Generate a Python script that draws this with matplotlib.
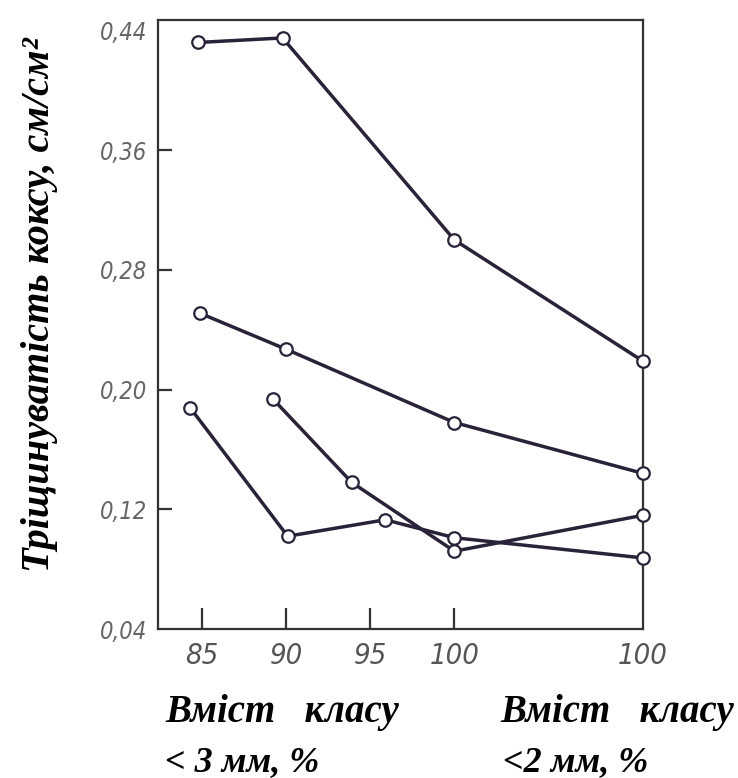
import matplotlib
matplotlib.use("Agg")
import matplotlib.pyplot as plt

# ---- data (x in % of class <3 mm; last point belongs to the <2 mm scale, plotted at its own position) ----
x_ticks = [85, 90, 95, 100, 111.2]
x_tick_labels = ["85", "90", "95", "100", "100"]
y_ticks = [0.04, 0.12, 0.20, 0.28, 0.36, 0.44]
y_tick_labels = ["0,04", "0,12", "0,20", "0,28", "0,36", "0,44"]

s1_x = [84.8, 89.8, 100.0, 111.2]
s1_y = [0.432, 0.435, 0.300, 0.219]

s2_x = [84.9, 90.0, 100.0, 111.2]
s2_y = [0.251, 0.227, 0.178, 0.144]

s3_x = [84.3, 90.1, 95.9, 100.0, 111.2]
s3_y = [0.188, 0.102, 0.113, 0.101, 0.0875]

s4_x = [89.2, 93.9, 100.0, 111.2]
s4_y = [0.194, 0.138, 0.092, 0.116]

series = [(s1_x, s1_y), (s2_x, s2_y), (s3_x, s3_y), (s4_x, s4_y)]

W, H = 738, 778
fig = plt.figure(figsize=(W / 100, H / 100), dpi=100)
fig.patch.set_facecolor("white")

left, right, bottom, top = 158, 643, 629, 20
ax = fig.add_axes([left / W, 1 - bottom / H, (right - left) / W, (bottom - top) / H])

line_color = "#2a2238"
for xs, ys in series:
    ax.plot(xs, ys, color=line_color, lw=2.5, marker="o", ms=9,
            mfc="white", mec=line_color, mew=1.6, zorder=3, clip_on=False)

ax.set_xlim(82.4, 111.2)
ax.set_ylim(0.04, 0.447)

for sp in ax.spines.values():
    sp.set_color("#333333")
    sp.set_linewidth(1.6)

num_font = ["DejaVu Sans"]
ax.set_xticks(x_ticks)
ax.set_xticklabels(x_tick_labels, family=num_font, style="italic",
                   fontsize=21, color="#555555", fontstretch="condensed")
ax.set_yticks(y_ticks)
ax.set_yticklabels(y_tick_labels, family=num_font, style="italic",
                   fontsize=17, color="#666666", fontstretch="condensed")
ax.tick_params(axis="x", direction="in", length=15, width=1.6, color="#333333", pad=9)
ax.tick_params(axis="y", direction="in", length=10, width=1.6, color="#333333", pad=8)

# hide tick marks that coincide with frame ends
xt = ax.xaxis.get_major_ticks()
xt[-1].tick1line.set_visible(False)
yt = ax.yaxis.get_major_ticks()
yt[0].tick1line.set_visible(False)
yt[-1].tick1line.set_visible(False)

serif = ["Liberation Serif", "DejaVu Serif"]
fig.text(40 / W, 1 - 305 / H, "Тріщинуватість коксу, см/см²", rotation=90,
         ha="center", va="center", family=serif, weight="bold", style="italic",
         fontsize=29, color="black")

fig.text(165 / W, 1 - 722 / H, "Вміст   класу", ha="left", va="baseline",
         family=serif, weight="bold", style="italic", fontsize=28, color="black")
fig.text(165 / W, 1 - 771 / H, "< 3 мм, %", ha="left", va="baseline",
         family=serif, weight="bold", style="italic", fontsize=26, color="black")
fig.text(500 / W, 1 - 722 / H, "Вміст   класу", ha="left", va="baseline",
         family=serif, weight="bold", style="italic", fontsize=28, color="black")
fig.text(503 / W, 1 - 771 / H, "<2 мм, %", ha="left", va="baseline",
         family=serif, weight="bold", style="italic", fontsize=26, color="black")

fig.savefig("out.png", dpi=100, facecolor="white")
